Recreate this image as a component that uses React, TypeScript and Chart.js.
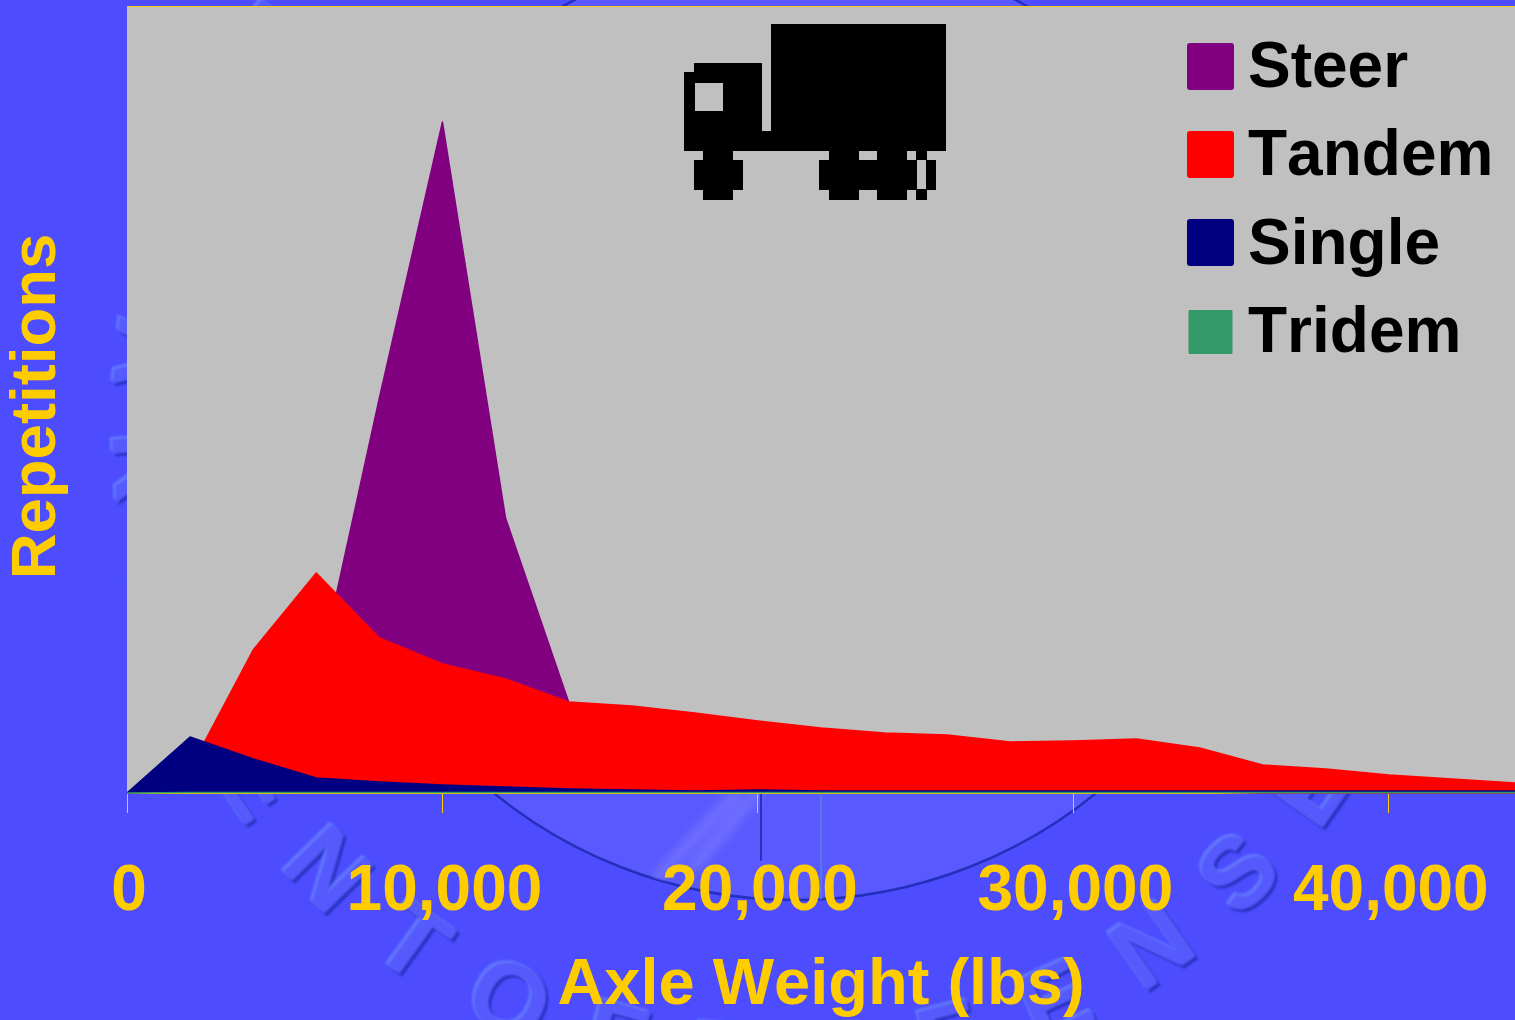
import React, { useEffect, useRef } from "react";
import { Chart, registerables } from "chart.js";

Chart.register(...registerables);

// Axle weight bins in pounds
const axleWeights = [
  0, 2000, 4000, 6000, 8000, 10000, 12000, 14000, 16000, 18000, 20000, 22000,
  24000, 26000, 28000, 30000, 32000, 34000, 36000, 38000, 40000, 42000, 44000,
];
const xTickValues = [0, 10000, 20000, 30000, 40000];

// Repetitions per bin (unlabelled axis, relative units)
const steer = [0, 2, 30, 107, 395, 671, 275, 91, 40, 15, 5, 3, 2, 1, 1, 1, 1, 1, 0, 0, 0, 0, 0];
const tandem = [0, 24, 143, 220, 155, 129, 114, 91, 87, 80, 72, 65, 60, 58, 51, 52, 54, 45, 28, 24, 18, 14, 10];
const single = [0, 56, 34, 15, 11, 8, 6, 4, 3, 2, 3, 2, 2, 2, 2, 2, 2, 2, 2, 2, 2, 2, 2];
const tridem = [0, 0.5, 0.5, 0.5, 0.5, 0.5, 0.5, 0.5, 0.5, 0.5, 0.5, 0.5, 0.5, 0.5, 0.5, 0.5, 0.5, 0.5, 0.5, 0.5, 0.5, 0.5, 0.5];

const seriesNames = ["Steer", "Tandem", "Single", "Tridem"];
const seriesColors = ["#800080", "#ff0000", "#000080", "#339966"];
const seriesValues = [steer, tandem, single, tridem];

const yTitle = "Repetitions";
const xTitle = "Axle Weight (lbs)";
const sealLetters = "DEPARTMENTOFDEFENSE";

const FONT = "'Liberation Sans', Arial, sans-serif";
const GOLD = "#ffcc00";
const PAGE_BLUE = "#4d4dff";

// Embossed seal behind the chart
function drawSeal(ctx: CanvasRenderingContext2D) {
  ctx.save();
  ctx.beginPath();
  ctx.arc(795, 423, 477, 0, Math.PI * 2);
  ctx.fillStyle = "rgba(110,110,255,0.36)";
  ctx.fill();
  ctx.strokeStyle = "rgba(25,40,170,0.8)";
  ctx.lineWidth = 2.5;
  ctx.stroke();
  ctx.clip();

  ctx.lineCap = "round";
  ctx.filter = "blur(4px)";
  ctx.strokeStyle = "rgba(140,140,255,0.4)";
  ctx.lineWidth = 14;
  ctx.beginPath();
  ctx.moveTo(735, 795);
  ctx.lineTo(660, 875);
  ctx.moveTo(755, 795);
  ctx.lineTo(695, 865);
  ctx.stroke();
  ctx.filter = "none";

  ctx.lineWidth = 2;
  ctx.strokeStyle = "rgba(25,40,170,0.8)";
  ctx.beginPath();
  ctx.moveTo(761, 790);
  ctx.lineTo(761, 860);
  ctx.stroke();
  ctx.strokeStyle = "rgba(90,120,230,0.9)";
  ctx.beginPath();
  ctx.moveTo(821, 790);
  ctx.lineTo(821, 900);
  ctx.stroke();
  ctx.restore();

  // Letters run round the rim, tops towards the centre, evenly spaced
  const cx = 785;
  const cy = 423;
  const radius = 645;
  const d = 2.5;
  ctx.save();
  ctx.font = `bold 100px ${FONT}`;
  ctx.textAlign = "center";
  ctx.textBaseline = "middle";
  ctx.filter = "blur(0.8px)";
  [...sealLetters].forEach((letter, i) => {
    const rad = ((216.5 - i * 10.1) * Math.PI) / 180;
    const turn = rad - Math.PI / 2;
    // shadow falls to the lower right of the page whatever the letter's rotation
    const ox = d * (Math.cos(turn) + Math.sin(turn));
    const oy = d * (Math.cos(turn) - Math.sin(turn));
    ctx.save();
    ctx.translate(cx + radius * Math.cos(rad), cy + radius * Math.sin(rad));
    ctx.rotate(turn);
    ctx.fillStyle = "rgba(25,40,170,0.75)";
    ctx.fillText(letter, ox, oy);
    ctx.fillStyle = "rgba(105,135,255,0.75)";
    ctx.fillText(letter, -ox, -oy);
    ctx.fillStyle = "rgb(86,90,252)";
    ctx.fillText(letter, 0, 0);
    ctx.restore();
  });
  ctx.restore();
}

// Pixel-art lorry at the top of the plot
function drawTruck(ctx: CanvasRenderingContext2D) {
  const block = (x0: number, y0: number, x1: number, y1: number, color = "#000") => {
    ctx.fillStyle = color;
    ctx.fillRect(x0, y0, x1 - x0, y1 - y0);
  };
  block(771, 24, 946, 151);
  block(684, 72, 762, 151);
  block(694, 63, 762, 72);
  block(695, 83, 723, 111, "#c0c0c0");
  block(762, 131, 771, 151);
  // front wheel
  block(703, 151, 733, 160);
  block(694, 160, 743, 190);
  block(703, 190, 733, 200);
  // rear wheels
  block(829, 151, 859, 160);
  block(877, 151, 907, 160);
  block(916, 151, 927, 160);
  block(819, 160, 917, 190);
  block(926, 160, 936, 190);
  block(829, 190, 859, 200);
  block(877, 190, 907, 200);
  block(916, 189, 927, 200);
}

const backdrop = {
  id: "backdrop",
  beforeDraw(chart: Chart) {
    const { ctx, width, height, chartArea: a } = chart;
    // applies to the axis labels drawn later in the same pass
    ctx.fontKerning = "none";
    ctx.save();
    ctx.fillStyle = PAGE_BLUE;
    ctx.fillRect(0, 0, width, height);
    drawSeal(ctx);
    ctx.fillStyle = "#c0c0c0";
    ctx.fillRect(a.left, a.top, a.right - a.left, a.bottom - a.top);
    ctx.fillStyle = GOLD;
    ctx.fillRect(a.left, a.top - 1, a.right - a.left, 1);
    drawTruck(ctx);
    ctx.restore();
  },
};

const annotations = {
  id: "annotations",
  afterDraw(chart: Chart) {
    const { ctx } = chart;
    ctx.save();
    // Vertical axis title
    ctx.translate(55, 406.5);
    ctx.rotate(-Math.PI / 2);
    ctx.font = `bold 63.5px ${FONT}`;
    ctx.fillStyle = GOLD;
    ctx.textAlign = "center";
    ctx.textBaseline = "alphabetic";
    ctx.fillText(yTitle, 0, 0);
    ctx.restore();

    // Legend
    ctx.save();
    ctx.font = `bold 64px ${FONT}`;
    ctx.textBaseline = "alphabetic";
    ctx.textAlign = "left";
    chart.data.datasets.forEach((ds, i) => {
      const top = 43 + i * 88;
      const last = i === chart.data.datasets.length - 1;
      ctx.fillStyle = ds.backgroundColor as string;
      ctx.beginPath();
      if (last) ctx.roundRect(1188.5, top + 3, 44, 44, 1);
      else ctx.roundRect(1187, top, 47, 47, 3);
      ctx.fill();
      ctx.fillStyle = "#000";
      ctx.fillText(ds.label as string, 1248, top + 44 + (i > 1 ? 1 : 0));
    });
    ctx.restore();
  },
};

export default function App() {
  const ref = useRef<HTMLCanvasElement>(null);

  useEffect(() => {
    document.body.style.margin = "0";
    document.documentElement.style.overflow = "hidden";
    const chart = new Chart(ref.current!, {
      type: "line",
      data: {
        labels: axleWeights,
        datasets: seriesNames.map((label, i) => ({
          label,
          data: axleWeights.map((x, k) => ({ x, y: seriesValues[i][k] })),
          backgroundColor: seriesColors[i],
          borderColor: seriesColors[i],
          borderWidth: 1.5,
          borderJoinStyle: "round",
          fill: "origin",
          tension: 0,
          pointRadius: 0,
          order: seriesNames.length - i,
          clip: 3,
        })),
      },
      options: {
        animation: false,
        responsive: false,
        layout: { autoPadding: false, padding: { top: 7, left: 0, right: 0, bottom: 0 } },
        plugins: { legend: { display: false }, tooltip: { enabled: false } },
        scales: {
          x: {
            type: "linear",
            min: 0,
            max: 44000,
            afterFit(scale: any) {
              scale.height = 227;
              scale.paddingLeft = 0;
              scale.paddingRight = 0;
            },
            afterBuildTicks(scale: any) {
              scale.ticks = xTickValues.map((value) => ({ value }));
            },
            border: { color: GOLD, width: 1 },
            grid: { drawOnChartArea: false, color: GOLD, tickLength: 20, tickWidth: 1 },
            ticks: {
              maxRotation: 0,
              autoSkip: false,
              color: GOLD,
              padding: 41,
              labelOffset: 2,
              font: { family: FONT, size: 64, weight: "bold" },
              callback: (v: any) => Number(v).toLocaleString("en-US"),
            },
            title: {
              display: true,
              text: xTitle,
              color: GOLD,
              padding: { top: 0, bottom: -5 },
              font: { family: FONT, size: 65, weight: "bold" },
            },
          },
          y: {
            min: 0,
            max: 786,
            afterFit(scale: any) {
              scale.width = 127;
            },
            border: { color: GOLD, width: 1 },
            grid: { drawOnChartArea: false, drawTicks: false },
            ticks: { display: false },
          },
        },
      },
      plugins: [backdrop, annotations],
    });
    return () => chart.destroy();
  }, []);

  return (
    <div style={{ position: "absolute", left: 0, top: 0, width: 1515, height: 1020 }}>
      <canvas ref={ref} width={1515} height={1020} style={{ display: "block" }} />
    </div>
  );
}
